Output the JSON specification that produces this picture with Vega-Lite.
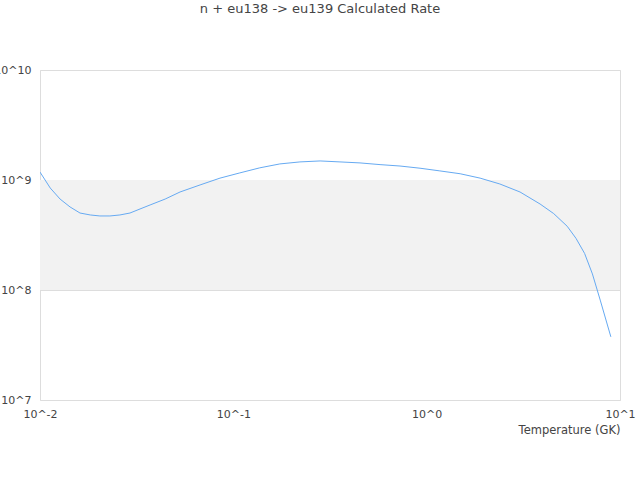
{
  "$schema": "https://vega.github.io/schema/vega-lite/v6.json",
  "autosize": "none",
  "padding": {"left": 40, "top": 70, "right": 20, "bottom": 80},
  "width": 580,
  "height": 330,
  "background": "white",
  "title": {
    "text": "n + eu138 -> eu139 Calculated Rate",
    "fontSize": 13,
    "fontWeight": "normal",
    "font": "DejaVu Sans",
    "color": "#444444",
    "offset": 48,
    "dx": -10
  },
  "config": {
    "view": {"stroke": "#dddddd"},
    "axis": {
      "labelFont": "DejaVu Sans",
      "titleFont": "DejaVu Sans",
      "labelFontSize": 11,
      "labelColor": "#444444",
      "titleColor": "#444444",
      "domain": false,
      "ticks": false
    }
  },
  "datasets": {
    "band": [{"lo": 1e8, "hi": 1e9}],
    "rate": [
      {"T": 0.0100, "R": 1.18e9},
      {"T": 0.0113, "R": 8.45e8},
      {"T": 0.0127, "R": 6.71e8},
      {"T": 0.0143, "R": 5.69e8},
      {"T": 0.0161, "R": 5.01e8},
      {"T": 0.0182, "R": 4.81e8},
      {"T": 0.0204, "R": 4.71e8},
      {"T": 0.0230, "R": 4.71e8},
      {"T": 0.0259, "R": 4.81e8},
      {"T": 0.0292, "R": 5.01e8},
      {"T": 0.0329, "R": 5.45e8},
      {"T": 0.0371, "R": 5.93e8},
      {"T": 0.0444, "R": 6.71e8},
      {"T": 0.0530, "R": 7.78e8},
      {"T": 0.0673, "R": 9.02e8},
      {"T": 0.0853, "R": 1.04e9},
      {"T": 0.108, "R": 1.16e9},
      {"T": 0.137, "R": 1.29e9},
      {"T": 0.174, "R": 1.40e9},
      {"T": 0.221, "R": 1.46e9},
      {"T": 0.281, "R": 1.49e9},
      {"T": 0.356, "R": 1.46e9},
      {"T": 0.452, "R": 1.43e9},
      {"T": 0.574, "R": 1.38e9},
      {"T": 0.728, "R": 1.34e9},
      {"T": 0.924, "R": 1.28e9},
      {"T": 1.17, "R": 1.21e9},
      {"T": 1.49, "R": 1.14e9},
      {"T": 1.89, "R": 1.04e9},
      {"T": 2.39, "R": 9.2e8},
      {"T": 3.04, "R": 7.78e8},
      {"T": 3.86, "R": 6.05e8},
      {"T": 4.54, "R": 4.95e8},
      {"T": 5.33, "R": 3.8e8},
      {"T": 5.92, "R": 2.95e8},
      {"T": 6.56, "R": 2.15e8},
      {"T": 7.20, "R": 1.4e8},
      {"T": 7.90, "R": 8.1e7},
      {"T": 8.97, "R": 3.75e7}
    ]
  },
  "layer": [
    {
      "data": {"name": "band"},
      "mark": {"type": "rect", "color": "#f2f2f2"},
      "encoding": {
        "y": {"field": "lo", "type": "quantitative", "scale": {"type": "log", "domain": [1e7, 1e10]}},
        "y2": {"field": "hi"}
      }
    },
    {
      "data": {"name": "rate"},
      "mark": {"type": "line", "color": "#66aaf2", "strokeWidth": 1, "clip": true},
      "encoding": {
        "x": {
          "field": "T",
          "type": "quantitative",
          "scale": {"type": "log", "domain": [0.01, 10]},
          "axis": {
            "title": "Temperature (GK)",
            "titleFontSize": 11.5,
            "titleFontWeight": "normal",
            "titleAnchor": "end",
            "titlePadding": 5,
            "labelPadding": 8,
            "grid": false,
            "values": [0.01, 0.1, 1, 10],
            "labelExpr": "'10^' + round(log(datum.value) / LN10)",
            "labelFlush": false,
            "labelOverlap": false
          }
        },
        "y": {
          "field": "R",
          "type": "quantitative",
          "scale": {"type": "log", "domain": [1e7, 1e10]},
          "axis": {
            "title": null,
            "grid": true,
            "gridColor": "#dddddd",
            "labelPadding": 9,
            "values": [1e7, 1e8, 1e9, 1e10],
            "labelExpr": "'10^' + round(log(datum.value) / LN10)",
            "labelFlush": false,
            "labelOverlap": false
          }
        }
      }
    }
  ]
}
